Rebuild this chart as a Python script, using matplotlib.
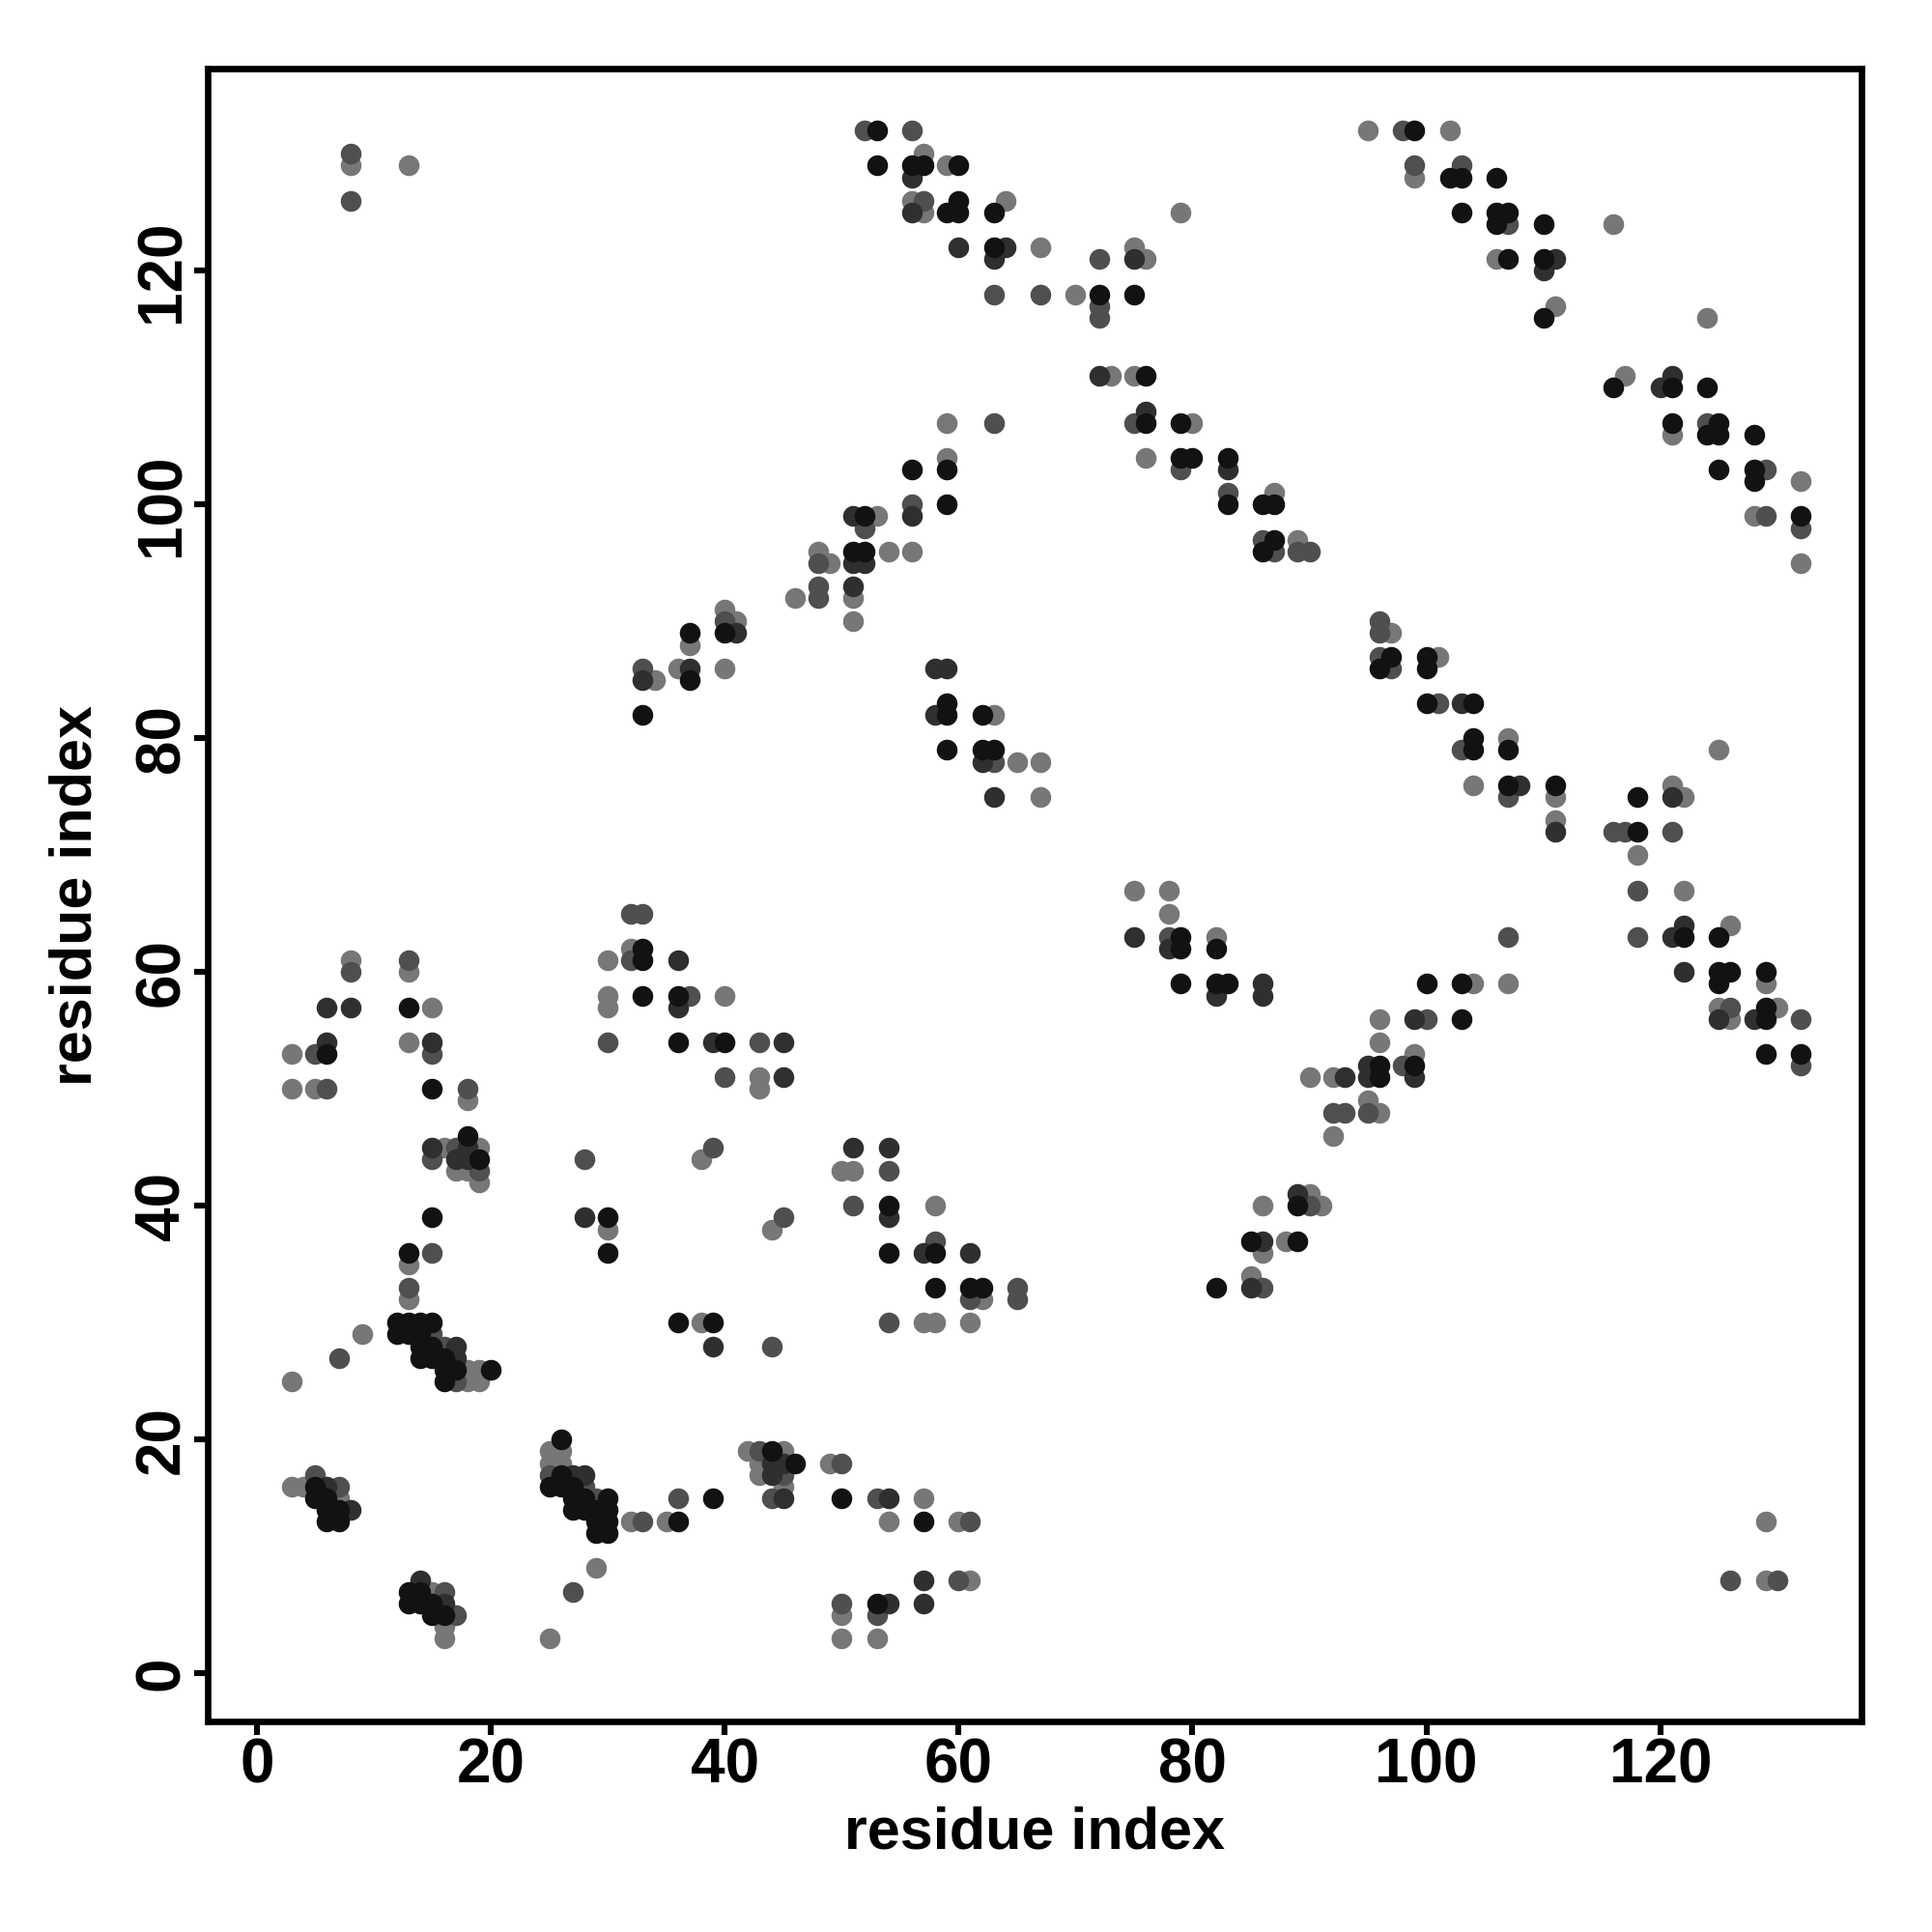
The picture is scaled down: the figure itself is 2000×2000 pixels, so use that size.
import numpy as np
import matplotlib.pyplot as plt

# residue contacts (i < j), grouped by shade; the map is symmetric, so each pair is drawn as (i, j) and (j, i)
contacts_black = [
    (5, 16), (5, 15), (6, 15), (6, 14), (7, 14), (6, 13), (7, 13), (6, 53),
    (12, 30), (13, 30), (14, 30), (15, 30), (12, 29), (13, 29), (14, 29), (14, 28), (15, 28),
    (14, 27), (15, 27), (16, 27), (16, 26), (17, 26), (20, 26), (16, 25),
    (13, 36), (15, 39), (18, 46), (19, 44), (15, 50), (13, 57),
    (30, 36), (30, 39), (33, 58), (33, 61), (33, 62), (36, 54), (36, 58), (40, 54),
    (33, 82), (37, 85), (37, 89), (40, 89),
    (51, 96), (52, 96), (52, 99), (56, 103), (59, 100), (59, 103),
    (53, 132), (53, 129), (56, 129), (57, 129), (60, 129), (59, 125), (60, 126), (60, 125),
    (63, 125), (63, 122),
    (59, 83), (59, 82), (62, 82), (59, 79), (62, 79), (63, 79),
    (72, 118), (75, 118), (76, 111), (76, 107), (79, 107), (79, 104), (80, 104), (83, 104),
    (83, 100), (86, 100), (87, 100), (87, 97), (86, 96),
    (99, 132), (102, 128), (103, 128), (106, 128), (103, 125), (106, 125), (107, 125),
    (106, 124), (110, 124), (107, 121), (110, 121), (110, 116),
]

contacts_dark = [
    (6, 16), (8, 14), (6, 54), (6, 57), (8, 57),
    (17, 28), (17, 27), (15, 45), (17, 44), (18, 44), (18, 45), (15, 54),
    (28, 39), (36, 57), (36, 61), (39, 54), (45, 51), (45, 54),
    (33, 85), (37, 86), (41, 89),
    (51, 93), (51, 95), (51, 99), (52, 95), (56, 99),
    (56, 128), (56, 125), (60, 122), (64, 122), (63, 121),
    (58, 86), (59, 86), (58, 82), (62, 78), (63, 75),
    (75, 121), (72, 111), (76, 108), (83, 103), (111, 121), (110, 120),
]

contacts_mid = [
    (5, 17), (7, 16), (7, 27), (5, 53), (6, 50), (8, 60), (8, 126), (8, 130),
    (15, 29), (16, 28), (17, 25), (13, 33), (15, 36), (15, 44), (17, 45), (19, 43), (15, 53),
    (18, 50), (13, 61),
    (28, 44), (30, 54), (32, 61), (32, 65), (33, 65), (37, 58), (40, 51), (43, 54), (39, 45),
    (33, 86), (40, 90),
    (48, 92), (48, 93), (48, 95), (52, 98), (56, 100), (63, 107),
    (52, 132), (56, 132), (57, 126), (63, 118), (67, 118),
    (63, 78),
    (72, 116), (72, 117), (72, 121), (75, 107), (79, 103), (83, 101), (86, 97), (87, 96),
    (89, 96), (90, 96),
    (98, 132), (99, 129), (103, 129), (107, 124),
]

contacts_light = [
    (3, 16), (4, 16), (7, 15), (3, 25), (9, 29), (3, 50), (3, 53), (5, 50), (8, 61), (8, 129),
    (13, 129),
    (18, 26), (19, 26), (18, 25), (19, 25), (13, 32), (13, 35), (16, 45), (17, 43), (18, 43),
    (19, 42), (19, 45), (15, 57), (18, 49), (13, 54), (13, 60),
    (30, 38), (30, 57), (30, 58), (30, 61), (32, 62), (40, 58), (43, 50), (43, 51), (38, 44),
    (34, 85), (36, 86), (37, 88), (40, 86), (40, 91), (41, 90),
    (46, 92), (48, 96), (49, 95), (51, 90), (51, 92), (53, 99), (54, 96), (56, 96),
    (59, 104), (59, 107),
    (57, 130), (56, 126), (57, 125), (59, 129), (64, 126), (67, 122),
    (63, 82), (65, 78), (67, 78), (67, 75),
    (70, 118), (75, 122), (76, 121), (79, 125), (73, 111), (75, 111), (76, 104), (80, 107),
    (87, 101), (89, 97),
    (95, 132), (99, 128), (102, 132), (116, 124), (106, 121), (111, 117),
]

tick_values = [0, 20, 40, 60, 80, 100, 120]

plt.rcParams['font.family'] = ['Liberation Sans', 'DejaVu Sans']

fig = plt.figure(figsize=(10, 10), dpi=200)
ax = fig.add_axes([0.1075, 0.109, 0.856, 0.8555])

# lightest first so the darker contacts sit on top
groups = [(contacts_light, '#777777'), (contacts_mid, '#4f4f4f'),
          (contacts_dark, '#2f2f2f'), (contacts_black, '#121212')]
for pairs, col in groups:
    ij = np.array(pairs)
    x = np.concatenate([ij[:, 0], ij[:, 1]])
    y = np.concatenate([ij[:, 1], ij[:, 0]])
    ax.scatter(x, y, s=60, c=col, linewidths=0, zorder=2)

ax.set_xlim(-4.2, 137.2)
ax.set_ylim(-4.1, 137.3)
ax.set_xticks(tick_values)
ax.set_yticks(tick_values)

for sp in ax.spines.values():
    sp.set_linewidth(2.4)

ax.tick_params(axis='both', length=5, width=2.2, labelsize=23, pad=1)
for lab in ax.get_xticklabels() + ax.get_yticklabels():
    lab.set_fontweight('bold')
for lab in ax.get_yticklabels():
    lab.set_rotation(90)
    lab.set_va('center')

ax.set_xlabel('residue index', fontsize=22, fontweight='bold', labelpad=4)
ax.set_ylabel('residue index', fontsize=22, fontweight='bold', labelpad=11)

fig.savefig('out.png', dpi=200)
